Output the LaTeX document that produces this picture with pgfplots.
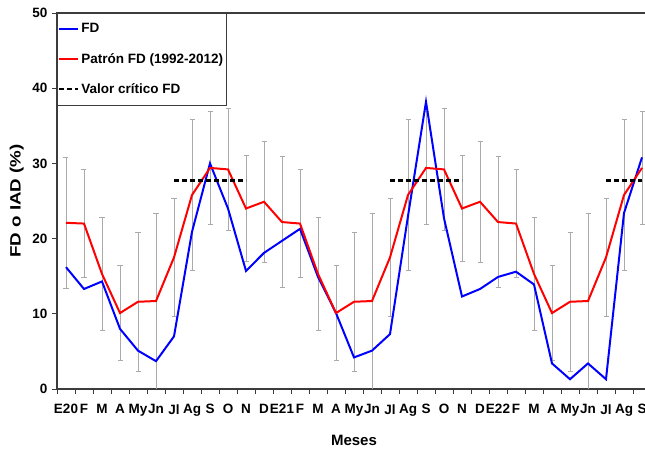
\documentclass[border=0pt]{standalone}
\usepackage{pgfplots}
\usepackage{pgfplotstable}
\pgfplotsset{compat=1.18}
\usepackage{fontspec}
\setmainfont{Liberation Sans}

\pgfplotstableread{
idx fd pat err crit
0 16.2 22.1 8.7 nan
1 13.3 22.0 7.2 nan
2 14.3 15.3 7.5 nan
3 8.0 10.1 6.3 nan
4 5.1 11.6 9.2 nan
5 3.7 11.7 11.7 nan
6 7.0 17.5 7.8 27.7
7 20.9 25.8 10.0 27.7
8 30.0 29.4 7.5 27.7
9 24.0 29.2 8.1 27.7
10 15.7 24.0 7.0 27.7
11 18.1 24.9 8.0 nan
12 19.7 22.2 8.7 nan
13 21.3 22.0 7.2 nan
14 14.9 15.3 7.5 nan
15 10.1 10.1 6.3 nan
16 4.2 11.6 9.2 nan
17 5.1 11.7 11.7 nan
18 7.3 17.5 7.8 27.7
19 23.0 25.8 10.0 27.7
20 38.2 29.4 7.5 27.7
21 22.7 29.2 8.1 27.7
22 12.3 24.0 7.0 27.7
23 13.3 24.9 8.0 nan
24 14.9 22.2 8.7 nan
25 15.6 22.0 7.2 nan
26 13.9 15.3 7.5 nan
27 3.4 10.1 6.3 nan
28 1.3 11.6 9.2 nan
29 3.4 11.7 11.7 nan
30 1.3 17.5 7.8 27.7
31 23.4 25.8 10.0 27.7
32 30.8 29.4 7.5 27.7
}\datatable

\definecolor{errgray}{RGB}{170,170,170}
\definecolor{axgray}{RGB}{60,60,60}

\begin{document}
\begin{tikzpicture}
\begin{axis}[
  at={(0,0)}, anchor=south west,
  scale only axis,
  width=594bp, height=376bp,
  xmin=-0.5, xmax=32.5,
  ymin=0, ymax=50,
  ytick={0,10,...,50},
  xtick={0,...,32},
  xticklabels={E20,F,M,A,My,Jn,Jl,Ag,S,O,N,D,E21,F,M,A,My,Jn,Jl,Ag,S,O,N,D,E22,F,M,A,My,Jn,Jl,Ag,S},
  minor xtick={-0.5,0.5,...,32.5},
  major x tick style={draw=none},
  tick align=outside,
  tick pos=left,
  major tick length=5bp,
  minor tick length=5bp,
  every tick/.style={axgray, line width=0.8pt},
  axis line style={axgray, line width=1.3pt},
  /pgf/number format/assume math mode=true,
  ticklabel style={font=\fontsize{13.5bp}{15bp}\selectfont\bfseries},
  xticklabel style={yshift=-7bp},
  yticklabel style={xshift=-1bp},
  xlabel={\fontsize{15bp}{17bp}\selectfont\bfseries Meses},
  ylabel={\fontsize{15bp}{17bp}\selectfont\bfseries\scalebox{1.25}[1]{FD o IAD (\%)}},
  xlabel style={yshift=-12bp},
  ylabel style={yshift=2bp},
  unbounded coords=jump,
  legend style={at={(0,1)}, anchor=north west, draw=axgray, line width=0.8pt,
    font=\fontsize{13.5bp}{15bp}\selectfont\bfseries, inner xsep=1bp, inner ysep=8bp,
    row sep=15bp, cells={anchor=west}},
  legend cell align=left,
  legend image code/.code={\draw[#1, line width=2pt] (0bp,0bp) -- (19bp,0bp);},
]
\addplot[forget plot, draw=none, mark=none,
  error bars/.cd, y dir=both, y explicit,
  error bar style={draw=errgray, line width=0.8pt},
  error mark options={rotate=90, draw=errgray, mark size=2.5bp, line width=0.8pt}]
  table[x=idx, y=pat, y error=err] {\datatable};
\addplot[blue, line width=2pt, mark=none] table[x=idx, y=fd] {\datatable};
\addlegendentry{FD}
\addplot[red, line width=2pt, mark=none] table[x=idx, y=pat] {\datatable};
\addlegendentry{Patrón FD (1992-2012)}
\addplot[black, line width=2.5pt, dash pattern=on 5bp off 3bp, mark=none] table[x=idx, y=crit] {\datatable};
\addlegendentry{Valor crítico FD}
\end{axis}
\pgfresetboundingbox
\path[use as bounding box] (-57bp,-66bp) rectangle (588bp,389bp);
\end{tikzpicture}
\end{document}
